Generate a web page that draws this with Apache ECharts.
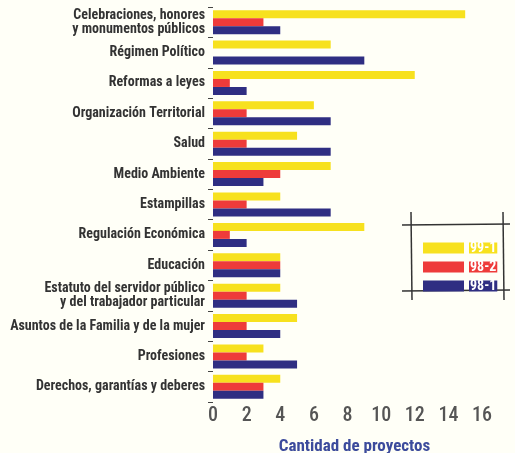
<!DOCTYPE html>
<html>
  <head>
    <meta charset="utf-8" />
    <title>Cantidad de proyectos por tema</title>
    <script src="https://cdn.jsdelivr.net/npm/echarts@6/dist/echarts.min.js"></script>
    <style>
      body {
        margin: 0;
        padding: 0;
        background: #fffff7;
      }
      #main {
        width: 515px;
        height: 453px;
      }
    </style>
  </head>
  <body>
    <div id="main"></div>
    <script type="text/javascript">
      // temas (de arriba a abajo)
      var categories = [
        "Celebraciones, honores\ny monumentos públicos",
        "Régimen Político",
        "Reformas a leyes",
        "Organización Territorial",
        "Salud",
        "Medio Ambiente",
        "Estampillas",
        "Regulación Económica",
        "Educación",
        "Estatuto del servidor público\ny del trabajador particular",
        "Asuntos de la Familia y de la mujer",
        "Profesiones",
        "Derechos, garantías y deberes",
      ];

      var seriesNames = ["99-1", "98-2", "98-1"];
      var serie991 = [15, 7, 12, 6, 5, 7, 4, 9, 4, 4, 5, 3, 4];
      var serie982 = [3, 0, 1, 2, 2, 4, 2, 1, 4, 2, 2, 2, 3];
      var serie981 = [4, 9, 2, 7, 7, 3, 7, 2, 4, 5, 4, 5, 3];
      var xTicks = [0, 2, 4, 6, 8, 10, 12, 14, 16];

      var colors = ["#f7e11e", "#ee3b3a", "#2f2e82"];
      var fontNarrow = "'Roboto Condensed', 'DejaVu Sans Condensed', sans-serif";

      var myChart = echarts.init(document.getElementById("main"));

      var seriesData = [serie991, serie982, serie981];

      var option = {
        backgroundColor: "#fffff7",
        animation: false,
        grid: {
          left: 213,
          right: 33,
          top: 7,
          bottom: 51,
          outerBoundsMode: "none",
        },
        legend: {
          orient: "vertical",
          left: 418,
          top: 236,
          itemWidth: 41,
          itemHeight: 11,
          itemGap: 5,
          icon: "rect",
          selectedMode: false,
          data: seriesNames.map(function (n, i) {
            return {
              name: n,
              textStyle: {
                color: "#ffffff",
                backgroundColor: colors[i],
                fontFamily: fontNarrow,
                fontWeight: "bold",
                fontSize: 14,
                lineHeight: 11,
                height: 11,
                padding: [0, 1, 0, 1],
              },
            };
          }),
        },
        xAxis: {
          type: "value",
          min: 0,
          max: 16,
          interval: 2,
          axisLine: { show: false },
          axisTick: { show: false },
          splitLine: { show: false },
          axisLabel: {
            margin: 4,
            fontFamily: fontNarrow,
            fontWeight: 500,
            fontSize: 20,
            color: "#555555",
            formatter: function (v) {
              return xTicks.indexOf(v) >= 0 ? String(v) : "";
            },
          },
          name: "Cantidad de proyectos",
          nameLocation: "middle",
          nameGap: 36,
          nameTextStyle: {
            fontFamily: fontNarrow,
            fontWeight: "bold",
            fontSize: 17,
            color: "#3c4b9c",
            padding: [0, 0, 0, 14],
          },
        },
        yAxis: {
          type: "category",
          inverse: true,
          data: categories,
          axisLine: { show: false },
          axisTick: {
            show: true,
            length: 5,
            lineStyle: { color: "#444444" },
          },
          splitLine: { show: false },
          axisLabel: {
            margin: 8,
            fontFamily: fontNarrow,
            fontWeight: "bold",
            fontSize: 14,
            lineHeight: 14,
            color: "#333333",
          },
        },
        series: seriesNames.map(function (n, i) {
          return {
            name: n,
            type: "bar",
            data: seriesData[i],
            barWidth: 8,
            barGap: "0%",
            itemStyle: { color: colors[i] },
          };
        }),
        graphic: [
          // marco dibujado a mano de la leyenda
          { type: "line", shape: { x1: 402, y1: 225, x2: 510, y2: 224 }, style: { stroke: "#333", lineWidth: 1.5 } },
          { type: "line", shape: { x1: 402, y1: 291, x2: 510, y2: 290 }, style: { stroke: "#333", lineWidth: 1.5 } },
          { type: "line", shape: { x1: 411, y1: 212, x2: 412, y2: 300 }, style: { stroke: "#333", lineWidth: 1.5 } },
          { type: "line", shape: { x1: 503, y1: 212, x2: 504, y2: 300 }, style: { stroke: "#333", lineWidth: 1.5 } },
        ],
      };

      myChart.setOption(option);
    </script>
  </body>
</html>
